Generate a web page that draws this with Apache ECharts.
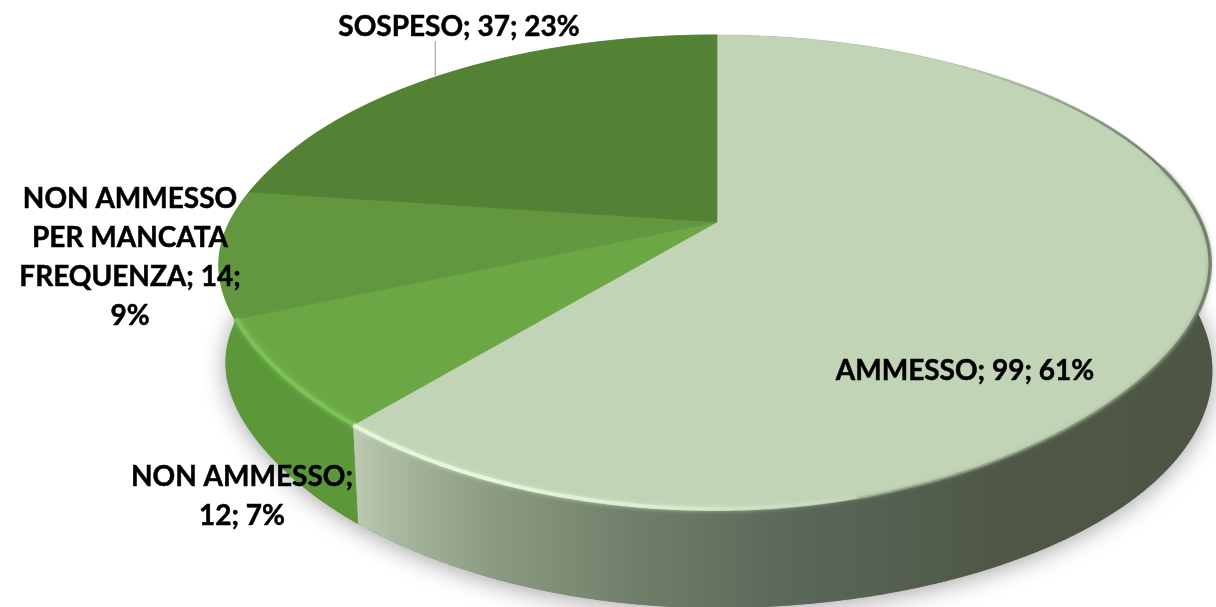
<!DOCTYPE html>
<html><head><meta charset="utf-8">
<style>html,body{margin:0;padding:0;background:#fff}#c{width:1216px;height:607px}</style>
<script src="https://cdn.jsdelivr.net/npm/echarts@6/dist/echarts.min.js"></script>
</head><body><div id="c"></div>
<script>
const categories = ['AMMESSO', 'NON AMMESSO', 'NON AMMESSO PER MANCATA FREQUENZA', 'SOSPESO'];
const values = [99, 12, 14, 37];
const labelLines = [['AMMESSO; 99; 61%'], ['NON AMMESSO;', '12; 7%'], ['NON AMMESSO', 'PER MANCATA', 'FREQUENZA; 14;', '9%'], ['SOSPESO; 37; 23%']];
const topColors = ['#c1d4b6', '#6ca745', '#62973f', '#548235'];

const G = echarts.graphic;
const geo = {ax: 717, ay: 222, kx: 484, ky: 226.8, c: 0.2126, depth: 98, sx: 0.986};
const labelPos = [[965, 371], [242, 477], [130, 199], [459, 27]];
const lineH = 39;
const total = values.reduce((a, b) => a + b, 0);
const starts = []; { let s = 0; values.forEach(v => { starts.push(s); s += v; }); }
const ang = v => v / total * 2 * Math.PI;
const HP = Math.PI / 2;
function raw(t) {
  const u = Math.sin(t), v = -Math.cos(t), d = 1 - geo.c * v;
  return [geo.ax + geo.kx * u / d, geo.ay + geo.ky * v / d];
}
// the visible edge of the face sits slightly inside the outline at the front (bevel)
function inset(t) {
  const bump = Math.abs(t - 4.57) < 0.5 ? 1 + 0.009 * Math.pow(Math.cos((t - 4.57) * Math.PI), 2) : 1;
  if (t <= HP || t >= 3 * HP) return bump;
  const s = Math.sin(2 * (t - HP));
  return bump * (1 - (t < Math.PI ? 0.03 : 0.02) * s * s);
}
function proj(t) {
  const p = raw(t), f = inset(t);
  return [geo.ax + (p[0] - geo.ax) * f, geo.ay + (p[1] - geo.ay) * f];
}
function low(t) {
  if (t < Math.PI) { const p = raw(t); return [p[0], p[1] + geo.depth]; }
  const p = proj(t);
  return [geo.ax + (p[0] - geo.ax) * geo.sx, p[1] + geo.depth];
}
function sample(fn, a, b) {
  const n = Math.max(2, Math.ceil((b - a) / 0.008)), out = [];
  for (let i = 0; i <= n; i++) out.push(fn(a + (b - a) * i / n));
  return out;
}
const rim = (a, b) => sample(proj, a, b);
const lg = (x, y, x2, y2, stops) => new G.LinearGradient(x, y, x2, y2, stops.map(s => ({offset: s[0], color: s[1]})), true);
const sideFills = [
  lg(352, 0, 1210, 0, [[0, '#bccbb2'], [0.05, '#a9b99f'], [0.17, '#8a9a81'], [0.34, '#6f7d68'], [0.52, '#5a6759'], [0.75, '#4f5846'], [1, '#4d5644']]),
  '#5c973a', '#5c973a', '#5c973a'
];
const sideRenderer = (params, api) => {
  const i = params.dataIndex, a = ang(starts[i]), b = ang(starts[i] + values[i]);
  return {type: 'polygon', shape: {points: sample(proj, a, b).concat(sample(low, a, b).reverse())},
    style: {fill: sideFills[i], stroke: i ? '#5c973a' : null, lineWidth: i ? 0.8 : 0}};
};
const shadowRenderer = (params, api) => ({type: 'polygon', shape: {points: sample(low, 0, 2 * Math.PI)},
  style: {fill: '#888', shadowBlur: 24, shadowColor: 'rgba(0,0,0,0.36)', shadowOffsetY: 3}});
const topRenderer = (params, api) => {
  const i = params.dataIndex, a = ang(starts[i]), b = ang(starts[i] + values[i]);
  return {type: 'polygon', shape: {points: [[geo.ax, geo.ay]].concat(rim(a, b))},
    style: {fill: topColors[i], stroke: topColors[i], lineWidth: 0.6}};
};
const line = (pts, color, w, blur, blurColor) => ({type: 'polyline', shape: {points: pts},
  style: {fill: null, stroke: color, lineWidth: w, shadowBlur: blur || 0, shadowColor: blur ? (blurColor || color) : undefined, lineCap: 'butt'}});
const bevelRenderer = (params, api) => {
  const i = params.dataIndex, a = ang(starts[i]), b = ang(starts[i] + values[i]);
  const kids = [];
  if (i === 0) {
    // soft dark edge, upper right
    kids.push(line(rim(ang(13), ang(34)), lg(950, 60, 1215, 300, [[0, 'rgba(120,135,110,0)'], [0.5, 'rgba(110,125,100,0.75)'], [1, 'rgba(80,90,72,0.9)']]), 2.4, 2, 'rgba(80,90,72,0.5)'));
    // soft edge between face and dark wall
    kids.push(line(rim(ang(34), ang(75)), lg(1215, 0, 700, 0, [[0, 'rgba(95,106,85,0.75)'], [0.6, 'rgba(110,122,100,0.45)'], [1, 'rgba(150,165,140,0.1)']]), 3.5, 4, 'rgba(110,122,100,0.6)'));
    // bright highlight along the front rim
    const front = sample(t => { const p = proj(t); return [p[0], p[1] - 1]; }, ang(62), b);
    kids.push(line(front, lg(352, 0, 900, 0, [[0, '#e4f6da'], [0.25, '#e6f8dc'], [0.55, 'rgba(222,240,212,0.85)'], [0.8, 'rgba(205,225,195,0.5)'], [1, 'rgba(193,212,182,0)']]), 4, 4, 'rgba(225,245,215,0.7)'));
  } else if (i === 1) {
    const g = sample(t => { const p = proj(t); return [p[0] + 1, p[1] - 1]; }, a, b);
    kids.push(line(g, '#7bc257', 4, 5, 'rgba(130,205,95,0.8)'));
  }
  return {type: 'group', children: kids};
};
const labelRenderer = (params, api) => {
  const i = params.dataIndex, pos = labelPos[i], kids = [];
  if (i === 3) {
    const p = proj(ang(starts[3] + values[3] * 0.485));
    kids.push({type: 'line', shape: {x1: p[0], y1: p[1], x2: p[0], y2: 41}, style: {stroke: '#a6a6a6', lineWidth: 1.2}});
  }
  labelLines[i].forEach((t, k) => kids.push({type: 'text', style: {
    x: pos[0], y: pos[1] + k * lineH, text: t, align: 'center', verticalAlign: 'middle',
    fill: '#000', stroke: '#000', lineWidth: 0.5, fontFamily: 'Lato', fontWeight: 'bold', fontSize: 28}}));
  return {type: 'group', children: kids};
};
const base = {type: 'custom', coordinateSystem: 'none', silent: true, animation: false, data: values.map((v, i) => ({name: categories[i], value: v}))};
const chart = echarts.init(document.getElementById('c'), null, {renderer: 'canvas'});
chart.setOption({
  animation: false, backgroundColor: '#fff',
  series: [
    Object.assign({}, base, {renderItem: shadowRenderer, data: [total], z: 1}),
    Object.assign({}, base, {renderItem: sideRenderer, z: 2}),
    Object.assign({}, base, {renderItem: topRenderer, z: 3}),
    Object.assign({}, base, {renderItem: bevelRenderer, z: 4}),
    Object.assign({}, base, {renderItem: labelRenderer, z: 5})
  ]
});
</script></body></html>
